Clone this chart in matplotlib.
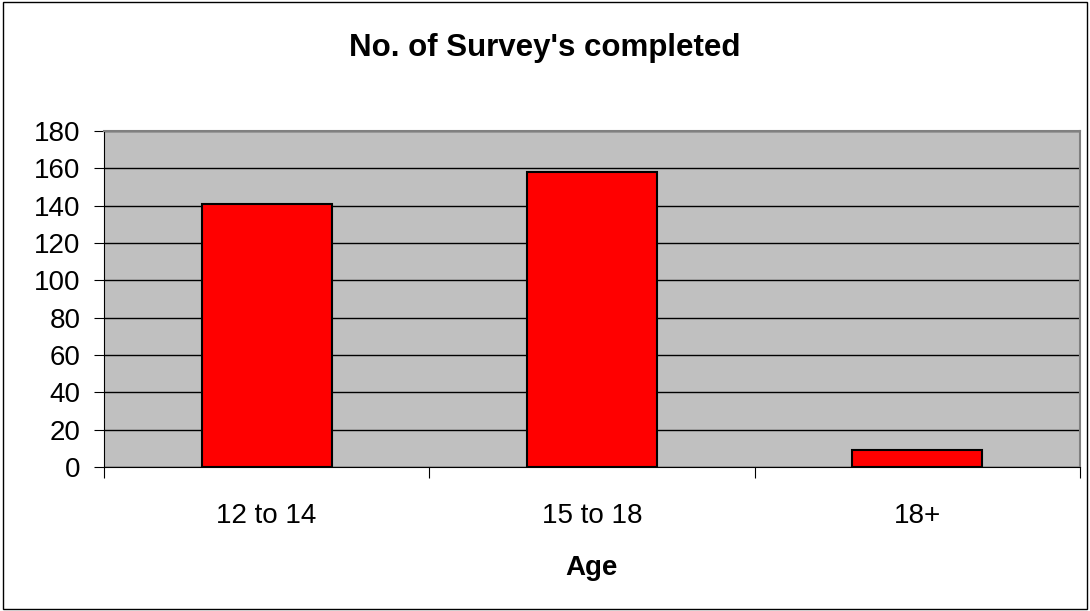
import matplotlib
matplotlib.use("Agg")
import matplotlib.pyplot as plt
from matplotlib.patches import Rectangle
from matplotlib.transforms import blended_transform_factory

categories = ["12 to 14", "15 to 18", "18+"]
values = [141, 158, 9]
yticks = [0, 20, 40, 60, 80, 100, 120, 140, 160, 180]

plt.rcParams['font.family'] = ['Liberation Sans', 'DejaVu Sans']

W, H = 1090, 611
fig = plt.figure(figsize=(W / 100, H / 100), dpi=100)
fig.patches.append(Rectangle((0.003, 0.004), 0.994, 0.992, transform=fig.transFigure,
                             fill=False, edgecolor='black', linewidth=1))
ax = fig.add_axes([104 / W, 1 - 467 / H, (1080 - 104) / W, (467 - 131) / H])
ax.set_facecolor('#C0C0C0')

x = list(range(len(categories)))
ax.bar(x, values, width=0.4, color='#FF0000', edgecolor='black', linewidth=1.5, zorder=3)

ax.set_xlim(-0.5, len(categories) - 0.5)
ax.set_ylim(0, 180)
ax.set_yticks(yticks)
ax.set_yticklabels([str(t) for t in yticks], fontsize=20)
ax.yaxis.grid(True, color='black', linewidth=1, zorder=1)
ax.set_axisbelow(True)

ax.set_xticks([i - 0.5 for i in range(len(categories) + 1)])
ax.set_xticklabels([])
ax.tick_params(axis='x', which='major', length=8, color='black', direction='out')
ax.tick_params(axis='y', length=7, color='black', pad=10)

trans = blended_transform_factory(ax.transData, fig.transFigure)
for xi, lab in zip(x, categories):
    ax.text(xi, 1 - 523 / H, lab, transform=trans, ha='center', va='baseline', fontsize=20)
ax.text(1, 1 - 575 / H, 'Age', transform=trans, ha='center', va='baseline',
        fontsize=20, fontweight='bold')

for s in ['top', 'right']:
    ax.spines[s].set_color('#808080')
    ax.spines[s].set_linewidth(1.5)
ax.spines['left'].set_color('black')
ax.spines['bottom'].set_color('black')

fig.text(0.5, 1 - 56 / H, "No. of Survey's completed", ha='center', va='baseline',
         fontsize=22.5, fontweight='bold')

fig.savefig('out.png', dpi=100)
